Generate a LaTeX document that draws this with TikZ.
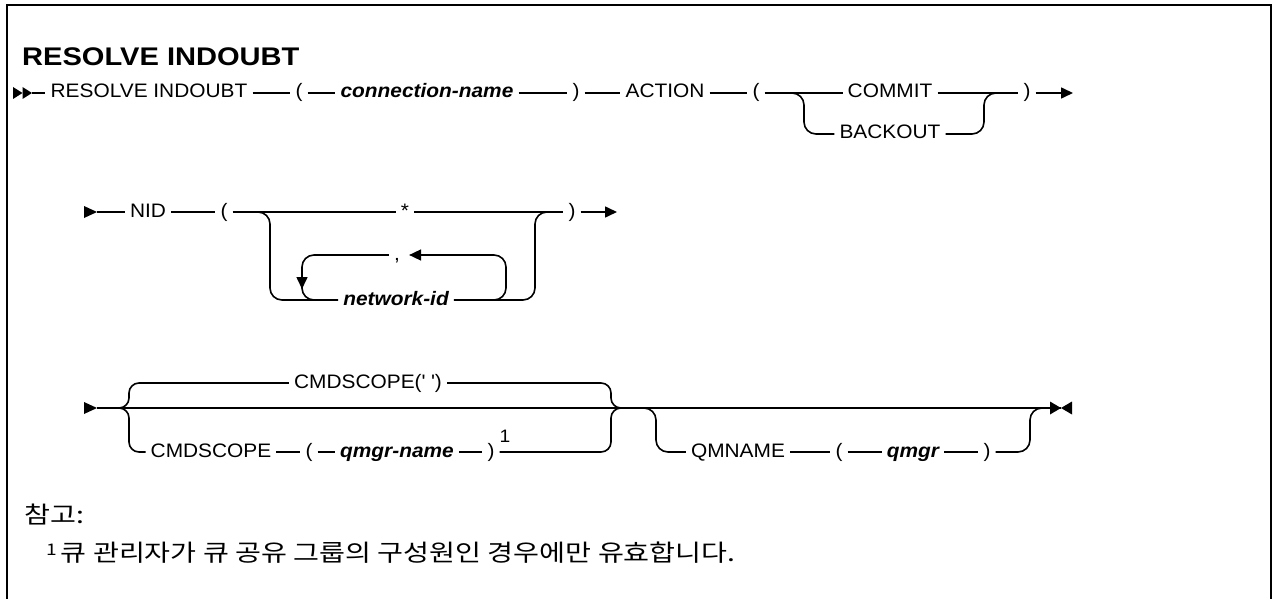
\documentclass[tikz,border=0pt]{standalone}
\usepackage{fontspec}
\setmainfont{Liberation Sans}[FakeStretch=1.07]
\newfontfamily\titlefont{Liberation Sans}[FakeStretch=1.14]
\newfontfamily\kr{Noto Sans CJK KR}[FakeStretch=1.2]
\usetikzlibrary{arrows.meta}
\begin{document}
\begin{tikzpicture}[x=1pt,y=-1pt,
  kw/.style={inner xsep=5pt, inner ysep=0pt, text height=14pt, text depth=4pt, font=\fontsize{19.5}{23}\selectfont},
  var/.style={kw, font=\fontsize{19.5}{23}\selectfont\bfseries\itshape},
  conn/.style={line width=1.6pt},
  br/.style={conn, rounded corners=12pt},
  brace/.style={conn, rounded corners=10pt},
  tip/.style={-{Triangle[length=12pt,width=11pt]}},
  frame/.style={line width=2pt}]
\useasboundingbox (0,0) rectangle (1275,599);
\draw[frame] (7,599) -- (7,5) -- (1271,5) -- (1271,599);
\node[anchor=west, inner sep=0pt, font=\titlefont\fontsize{25.5}{30}\selectfont\bfseries] (title) at (22,57) {RESOLVE INDOUBT};
% ---------- row 1
\coordinate (s1) at (32,93);
\fill (13,87) -- (22.5,93) -- (13,99) -- cycle;
\fill (22.5,87) -- (32,93) -- (22.5,99) -- cycle;
\node[kw] (r1) at (149,93) {RESOLVE INDOUBT};
\node[kw] (lp1) at (299,93) {(};
\node[var] (cn) at (427,93) {connection-name};
\node[kw] (rp1) at (576,93) {)};
\node[kw] (act) at (665,93) {ACTION};
\node[kw] (lp2) at (756,93) {(};
\node[kw] (commit) at (890,93) {COMMIT};
\node[kw] (backout) at (890,134) {BACKOUT};
\node[kw] (rp2) at (1027,93) {)};
\coordinate (e1) at (1073,93);
\coordinate (j1a) at (792,93); \coordinate (j1b) at (804,93);
\coordinate (j1c) at (984,93); \coordinate (j1d) at (996,93);
\draw[conn] (s1) -- (r1) -- (lp1) -- (cn) -- (rp1) -- (act) -- (lp2) -- (commit) -- (rp2);
\draw[conn, tip] (rp2) -- (e1);
\draw[br] (j1a) -- (j1b) -- (j1b |- backout) -- (backout);
\draw[br] (backout) -- (j1c |- backout) -- (j1c) -- (j1d);
% ---------- row 2
\coordinate (s2) at (97,212);
\fill (84,206) -- (97,212) -- (84,218) -- cycle;
\node[kw] (nid) at (148,212) {NID};
\node[kw] (lp3) at (224,212) {(};
\node[kw] (star) at (405,212) {*};
\node[kw] (rp3) at (572,212) {)};
\coordinate (e2) at (617,212);
\node[var] (netid) at (396,300) {network-id};
\node[kw] (comma) at (397,255) {,};
\coordinate (o1) at (258,212); \coordinate (o2) at (270,212);
\coordinate (o3) at (535,212); \coordinate (o4) at (547,212);
\coordinate (i1) at (302,255); \coordinate (i2) at (302,289);
\coordinate (i3) at (506,300); \coordinate (i4) at (494,300);
\coordinate (i5) at (314,300); \coordinate (i6) at (302,286);
\draw[conn] (s2) -- (nid) -- (lp3) -- (star) -- (rp3);
\draw[conn, tip] (rp3) -- (e2);
\draw[br] (o1) -- (o2) -- (o2 |- netid) -- (netid);
\draw[br] (netid) -- (o3 |- netid) -- (o3) -- (o4);
\draw[br, tip, shorten >=4pt] (i4) -- (i3) -- (i3 |- comma) -- (comma);
\draw[br, tip] (comma) -- (i1) -- (i2);
\draw[br] (i6) -- (i1 |- i5) -- (i5);
% ---------- row 3
\coordinate (s3) at (97,408);
\fill (84,402) -- (97,408) -- (84,414) -- cycle;
\node[kw] (cmd1) at (368,383) {CMDSCOPE(\textquotesingle\ \textquotesingle)};
\node[kw] (cmd2) at (211,452) {CMDSCOPE};
\node[kw] (lp4) at (309,452) {(};
\node[var] (qn) at (397,452) {qmgr-name};
\node[kw] (rp4) at (491,452) {)};
\node[inner sep=0pt, font=\fontsize{18}{18}\selectfont] (fn1) at (505,436) {1};
\node[kw] (qm) at (738,452) {QMNAME};
\node[kw] (lp5) at (839,452) {(};
\node[var] (qmgr) at (913,452) {qmgr};
\node[kw] (rp5) at (987,452) {)};
\coordinate (b1) at (119,408); \coordinate (b2) at (129,408);
\coordinate (b3) at (611,408); \coordinate (b4) at (621,408);
\coordinate (q1) at (644,408); \coordinate (q2) at (656,408);
\coordinate (q3) at (1030,408); \coordinate (q4) at (1042,408);
\coordinate (e3) at (1061,408);
\draw[conn] (s3) -- (e3);
\fill (1050,401.5) -- (1061,408) -- (1050,414.5) -- cycle;
\fill (1072,401.5) -- (1061,408) -- (1072,414.5) -- cycle;
\draw[brace] (b1) -- (b2) -- (b2 |- cmd1) -- (cmd1);
\draw[brace] (b1) -- (b2) -- (b2 |- cmd2) -- (cmd2);
\draw[brace] (cmd1) -- (b3 |- cmd1) -- (b3) -- (b4);
\draw[conn] (cmd2) -- (lp4) -- (qn) -- (rp4);
\draw[brace] (rp4) -- (b3 |- rp4) -- (b3) -- (b4);
\draw[br] (q1) -- (q2) -- (q2 |- qm) -- (qm);
\draw[conn] (qm) -- (lp5) -- (qmgr) -- (rp5);
\draw[br] (rp5) -- (q3 |- rp5) -- (q3) -- (q4);
% ---------- notes
\node[anchor=west, inner sep=0pt, font=\kr\fontsize{23.5}{26}\selectfont] (note) at (24,515) {참고:};
\node[anchor=west, inner sep=0pt, font=\kr\fontsize{23.5}{26}\selectfont] (fn) at (46,553) {\raisebox{6pt}{\fontsize{16}{16}\selectfont 1}\hspace{4pt}큐 관리자가 큐 공유 그룹의 구성원인 경우에만 유효합니다.};
\end{tikzpicture}
\end{document}
